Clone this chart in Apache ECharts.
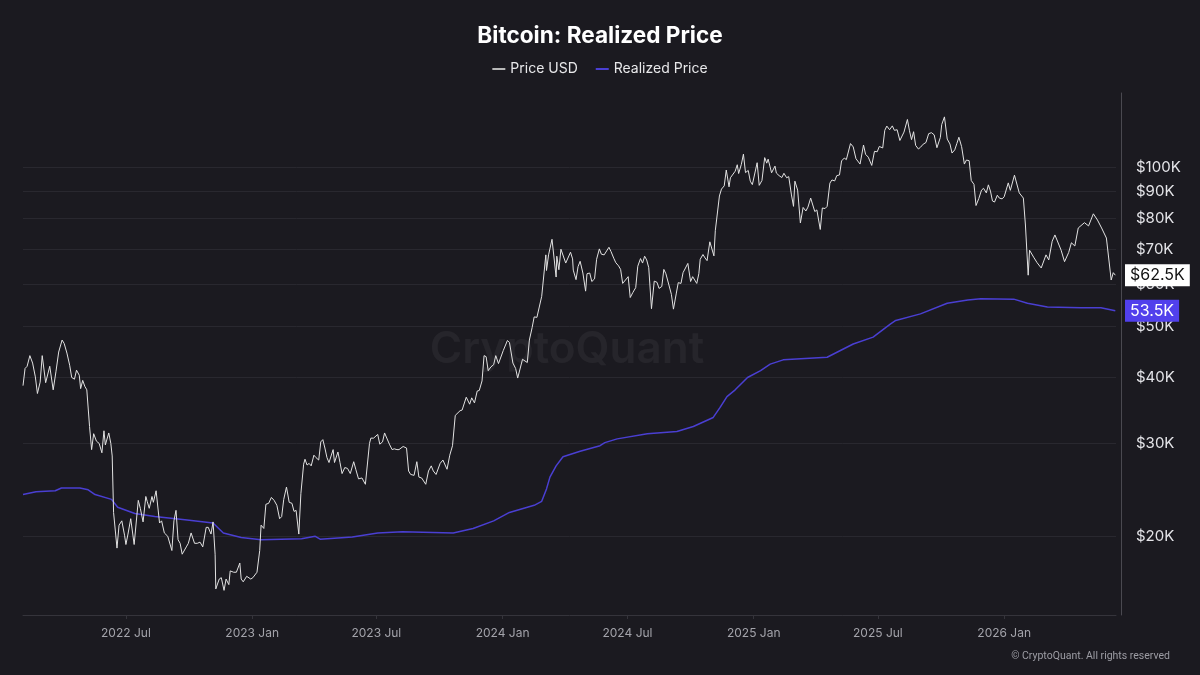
<!DOCTYPE html>
<html>
<head>
<meta charset="utf-8">
<script src="https://cdn.jsdelivr.net/npm/echarts@6/dist/echarts.min.js"></script>
<style>
html,body{margin:0;padding:0;background:#1b1a20;}
#c{width:1200px;height:675px;}
</style>
</head>
<body>
<div id="c"></div>
<script>
// ---- Data (values in thousand USD) ----
const price2022 = [
['2022-02-01',38.6],['2022-02-04',41.6],['2022-02-07',42.0],['2022-02-11',44.0],['2022-02-15',42.6],
['2022-02-19',40.1],['2022-02-22',37.3],['2022-02-26',39.2],['2022-03-01',44.0],['2022-03-06',39.1],
['2022-03-12',42.0],['2022-03-17',37.9],['2022-03-21',41.0],['2022-03-25',44.7],['2022-03-30',47.1],
['2022-04-02',46.4],['2022-04-06',44.5],['2022-04-10',42.2],['2022-04-13',40.0],['2022-04-17',39.7],
['2022-04-20',41.3],['2022-04-24',40.4],['2022-04-26',38.1],['2022-04-29',39.5],['2022-05-02',38.5],
['2022-05-05',37.9],['2022-05-09',32.3],['2022-05-12',29.2],['2022-05-15',31.3],['2022-05-19',30.3],
['2022-05-23',30.0],['2022-05-27',28.8],['2022-05-30',31.7],['2022-06-01',29.8],['2022-06-06',31.4],
['2022-06-09',30.0],['2022-06-11',28.4],['2022-06-13',22.2],['2022-06-18',19.0],['2022-06-21',21.0],
['2022-06-25',21.4],['2022-06-29',20.1],['2022-07-01',19.3],['2022-07-04',20.2],['2022-07-08',21.6],
['2022-07-13',19.3],['2022-07-19',23.4],['2022-07-22',22.6],['2022-07-26',21.3],['2022-07-30',23.8],
['2022-08-01',23.3],['2022-08-04',22.6],['2022-08-08',23.8],['2022-08-10',23.2],['2022-08-14',24.4],
['2022-08-19',21.2],['2022-08-22',21.4],['2022-08-26',20.3],['2022-08-31',20.0],['2022-09-06',18.8],
['2022-09-09',21.4],['2022-09-12',22.4],['2022-09-15',19.7],['2022-09-18',19.4],['2022-09-21',18.5],
['2022-09-27',19.1],['2022-09-30',19.4],['2022-10-04',20.3],['2022-10-09',19.4],['2022-10-13',19.4],
['2022-10-17',19.5],['2022-10-21',19.1],['2022-10-26',20.8],['2022-10-29',20.8],['2022-11-02',20.2],
['2022-11-05',21.3],['2022-11-08',18.5],['2022-11-09',15.9],['2022-11-14',16.6],['2022-11-17',16.7],
['2022-11-21',15.8],['2022-11-24',16.6],['2022-11-28',16.2],['2022-11-30',17.2],['2022-12-05',17.1],
['2022-12-09',17.1],['2022-12-14',17.8],['2022-12-16',16.6],['2022-12-19',16.4],['2022-12-24',16.8],
['2022-12-30',16.6]
];
const price2023 = [
['2023-01-02',16.7],['2023-01-08',17.1],['2023-01-12',18.8],['2023-01-14',21.0],['2023-01-18',20.7],
['2023-01-21',23.0],['2023-01-25',23.1],['2023-01-29',23.7],['2023-02-02',23.4],['2023-02-06',22.9],
['2023-02-10',21.6],['2023-02-13',21.8],['2023-02-16',23.5],['2023-02-20',24.8],['2023-02-24',23.2],
['2023-02-28',23.1],['2023-03-03',22.3],['2023-03-06',22.4],['2023-03-10',20.2],['2023-03-13',24.1],
['2023-03-17',27.4],['2023-03-19',28.0],['2023-03-22',27.3],['2023-03-25',27.5],['2023-03-28',27.2],
['2023-04-01',28.5],['2023-04-04',28.2],['2023-04-08',27.9],['2023-04-11',30.2],['2023-04-14',30.5],
['2023-04-17',29.4],['2023-04-20',28.2],['2023-04-23',27.6],['2023-04-26',28.4],['2023-04-29',29.2],
['2023-05-01',27.6],['2023-05-06',28.9],['2023-05-09',27.6],['2023-05-12',26.3],['2023-05-16',27.0],
['2023-05-20',26.9],['2023-05-24',26.3],['2023-05-29',27.7],['2023-06-01',26.8],['2023-06-05',25.7],
['2023-06-10',25.8],['2023-06-15',25.1],['2023-06-21',30.0],['2023-06-23',30.7],['2023-06-27',30.7],
['2023-07-03',31.2],['2023-07-06',29.9],['2023-07-10',30.2],['2023-07-13',31.4],['2023-07-20',29.9],
['2023-07-24',29.2],['2023-07-27',29.3],['2023-07-31',29.2],['2023-08-03',29.2],['2023-08-09',29.6],
['2023-08-14',29.4],['2023-08-17',26.6],['2023-08-20',26.2],['2023-08-25',26.1],['2023-08-29',27.7],
['2023-09-01',25.9],['2023-09-05',25.8],['2023-09-11',25.1],['2023-09-15',26.6],['2023-09-19',27.2],
['2023-09-22',26.6],['2023-09-26',26.2],['2023-10-02',27.5],['2023-10-06',27.9],['2023-10-12',26.8],
['2023-10-16',28.5],['2023-10-20',29.7],['2023-10-24',33.9],['2023-10-31',34.6],['2023-11-03',34.7],
['2023-11-09',36.7],['2023-11-14',35.6],['2023-11-17',36.6],['2023-11-21',35.8],['2023-11-25',37.7],
['2023-11-28',37.8],['2023-12-02',39.4],['2023-12-05',44.0],['2023-12-08',43.8],['2023-12-11',41.2],
['2023-12-15',41.9],['2023-12-19',42.3],['2023-12-22',44.0],['2023-12-26',42.5]
];
const price2024 = [
['2024-01-02',45.0],['2024-01-08',47.0],['2024-01-11',46.6],['2024-01-16',42.6],['2024-01-20',41.6],
['2024-01-23',39.9],['2024-01-30',43.3],['2024-02-06',42.7],['2024-02-09',47.1],['2024-02-13',49.7],
['2024-02-16',52.1],['2024-02-20',52.0],['2024-02-27',57.0],['2024-03-04',68.3],['2024-03-05',63.8],
['2024-03-08',68.3],['2024-03-13',73.1],['2024-03-19',62.0],['2024-03-20',67.9],['2024-03-23',64.0],
['2024-03-26',70.0],['2024-04-02',65.9],['2024-04-09',69.1],['2024-04-12',67.1],['2024-04-13',63.9],
['2024-04-17',61.3],['2024-04-20',64.9],['2024-04-23',66.4],['2024-04-27',63.1],['2024-05-01',58.3],
['2024-05-03',62.9],['2024-05-07',63.1],['2024-05-10',60.8],['2024-05-14',61.5],['2024-05-17',67.0],
['2024-05-21',70.1],['2024-05-24',68.5],['2024-05-28',68.3],['2024-06-04',70.6],['2024-06-07',69.3],
['2024-06-11',67.3],['2024-06-14',66.0],['2024-06-18',65.1],['2024-06-21',64.1],['2024-06-24',60.3],
['2024-07-02',62.1],['2024-07-05',56.7],['2024-07-09',58.0],['2024-07-13',59.2],['2024-07-16',65.0],
['2024-07-20',67.2],['2024-07-23',65.9],['2024-07-26',67.9],['2024-07-29',66.8],['2024-08-01',64.6],
['2024-08-05',54.0],['2024-08-09',60.9],['2024-08-13',60.6],['2024-08-16',59.0],['2024-08-20',59.5],
['2024-08-23',64.1],['2024-08-26',62.9],['2024-09-03',57.5],['2024-09-06',53.9],['2024-09-10',57.6],
['2024-09-13',60.5],['2024-09-17',60.3],['2024-09-20',63.2],['2024-09-27',65.8],['2024-10-01',60.8],
['2024-10-04',62.1],['2024-10-10',60.3],['2024-10-13',62.9],['2024-10-15',67.0],['2024-10-19',68.4],
['2024-10-22',67.4],['2024-10-25',66.6],['2024-10-29',72.3],['2024-11-04',68.0],['2024-11-06',75.9],
['2024-11-12',88.3],['2024-11-15',91.0],['2024-11-19',92.3],['2024-11-22',98.9],['2024-11-26',91.9],
['2024-11-28',95.6],['2024-12-05',98.4],['2024-12-08',101.2],['2024-12-10',97.4],['2024-12-14',101.4],
['2024-12-17',106.0],['2024-12-20',97.8],['2024-12-24',98.7],['2024-12-27',94.2],['2024-12-30',92.8]
];
const price2025 = [
['2025-01-06',102.1],['2025-01-09',92.5],['2025-01-13',94.5],['2025-01-17',104.4],['2025-01-20',101.9],
['2025-01-22',103.7],['2025-01-27',97.7],['2025-02-01',100.6],['2025-02-03',97.6],['2025-02-07',96.5],
['2025-02-11',95.7],['2025-02-14',97.5],['2025-02-18',95.6],['2025-02-21',96.1],['2025-02-25',88.7],
['2025-02-28',84.4],['2025-03-02',94.2],['2025-03-06',90.6],['2025-03-10',78.5],['2025-03-14',84.0],
['2025-03-18',82.7],['2025-03-21',84.1],['2025-03-25',87.5],['2025-03-31',82.5],['2025-04-03',83.1],
['2025-04-08',76.3],['2025-04-11',83.8],['2025-04-15',83.6],['2025-04-18',84.4],['2025-04-22',93.4],
['2025-04-25',94.7],['2025-04-29',94.3],['2025-05-02',96.5],['2025-05-06',96.8],['2025-05-09',102.9],
['2025-05-13',104.2],['2025-05-16',103.5],['2025-05-22',111.0],['2025-05-26',109.4],['2025-05-30',103.9],
['2025-06-05',101.5],['2025-06-10',110.3],['2025-06-13',105.9],['2025-06-17',104.6],['2025-06-22',100.9],
['2025-06-26',107.3],['2025-06-30',107.1],['2025-07-03',109.6],['2025-07-08',108.9],['2025-07-11',117.6],
['2025-07-14',119.8],['2025-07-18',117.9],['2025-07-22',119.9],['2025-07-25',117.6],['2025-07-29',117.9],
['2025-08-02',112.5],['2025-08-08',116.7],['2025-08-10',119.3],['2025-08-13',123.3],['2025-08-16',117.4],
['2025-08-19',112.9],['2025-08-22',116.9],['2025-08-25',110.1],['2025-08-29',108.4],['2025-09-01',109.2],
['2025-09-05',110.7],['2025-09-09',111.5],['2025-09-13',115.9],['2025-09-17',116.4],['2025-09-21',115.3],
['2025-09-25',109.0],['2025-09-30',114.0],['2025-10-02',120.6],['2025-10-06',124.7],['2025-10-10',113.2],
['2025-10-14',110.8],['2025-10-17',106.5],['2025-10-21',108.0],['2025-10-24',111.0],['2025-10-27',114.1],
['2025-10-31',109.5],['2025-11-04',101.5],['2025-11-07',103.3],['2025-11-11',103.0],['2025-11-14',94.5],
['2025-11-18',92.9],['2025-11-21',84.7],['2025-11-25',87.3],['2025-11-29',90.6],['2025-12-02',91.3],
['2025-12-06',89.5],['2025-12-09',92.7],['2025-12-12',90.2],['2025-12-15',86.4],['2025-12-18',86.0],
['2025-12-22',88.6],['2025-12-25',87.5],['2025-12-29',87.2]
];
const price2026 = [
['2026-01-01',88.0],['2026-01-07',93.5],['2026-01-10',90.5],['2026-01-16',96.7],['2026-01-23',89.5],
['2026-01-29',87.5],['2026-02-01',77.8],['2026-02-05',62.5],['2026-02-07',69.7],['2026-02-13',67.6],
['2026-02-18',66.0],['2026-02-24',64.5],['2026-03-03',68.3],['2026-03-07',66.8],['2026-03-12',72.5],
['2026-03-16',74.5],['2026-03-25',69.7],['2026-03-30',66.3],['2026-04-05',69.0],['2026-04-09',72.0],
['2026-04-14',71.0],['2026-04-19',76.8],['2026-04-28',78.6],['2026-05-04',77.5],['2026-05-11',81.7],
['2026-05-17',79.5],['2026-05-23',76.8],['2026-05-30',73.5],['2026-06-06',61.2],['2026-06-09',63.2],
['2026-06-12',62.5]
];
const realized = [
['2022-02-01',24.0],['2022-02-20',24.3],['2022-03-20',24.4],['2022-03-29',24.7],['2022-04-25',24.7],
['2022-05-07',24.5],['2022-05-17',24.0],['2022-06-10',23.5],['2022-06-19',22.7],['2022-07-14',22.1],
['2022-08-12',21.8],['2022-09-25',21.5],['2022-11-05',21.2],['2022-11-20',20.3],['2022-12-16',19.9],
['2023-01-14',19.7],['2023-03-14',19.8],['2023-04-03',20.0],['2023-04-10',19.75],['2023-05-27',19.95],
['2023-07-03',20.3],['2023-08-08',20.4],['2023-10-21',20.3],['2023-11-19',20.7],['2023-12-19',21.4],
['2024-01-11',22.2],['2024-02-16',22.9],['2024-02-27',23.3],['2024-03-05',24.6],['2024-03-10',25.9],
['2024-03-19',27.2],['2024-03-29',28.3],['2024-04-23',29.0],['2024-05-22',29.7],['2024-05-29',30.1],
['2024-06-16',30.6],['2024-07-30',31.3],['2024-09-11',31.6],['2024-10-05',32.3],['2024-11-03',33.6],
['2024-11-13',35.1],['2024-11-23',36.8],['2024-12-05',37.9],['2024-12-23',40.0],['2025-01-11',41.2],
['2025-01-25',42.4],['2025-02-13',43.2],['2025-04-18',43.7],['2025-05-26',46.3],['2025-06-24',47.7],
['2025-07-19',50.5],['2025-07-27',51.3],['2025-09-01',52.8],['2025-10-10',55.3],['2025-11-09',56.1],
['2025-11-28',56.4],['2026-01-15',56.3],['2026-02-04',55.3],['2026-03-05',54.4],['2026-04-23',54.2],
['2026-05-22',54.2],['2026-06-12',53.5]
];
const yTicks = [20,30,40,50,60,70,80,90,100];
const monthNames = ['Jan','Feb','Mar','Apr','May','Jun','Jul','Aug','Sep','Oct','Nov','Dec'];
const xRange = ['2022-02-01','2026-06-13'];
const yRange = [14.19, 138.4];

// ---- Build ----
const DAY = 86400000;
const toTs = s => { const p = s.split('-').map(Number); return new Date(p[0], p[1]-1, p[2]).getTime(); };
const conv = arr => arr.map(d => [toTs(d[0]), d[1]]);
const priceData = conv(price2022.concat(price2023, price2024, price2025, price2026));
const rpData = conv(realized);
const lastPrice = priceData[priceData.length-1][1];
const lastRP = rpData[rpData.length-1][1];
const FONT = 'Inter, "Noto Sans", sans-serif';

const chart = echarts.init(document.getElementById('c'));
chart.setOption({
  backgroundColor: '#1b1a20',
  animation: false,
  textStyle: { fontFamily: FONT },
  title: {
    text: 'Bitcoin: Realized Price',
    left: 'center', top: 20,
    textStyle: { color: '#ffffff', fontSize: 22.6, fontWeight: 'bold', fontFamily: FONT }
  },
  legend: {
    top: 57, left: 'center',
    icon: 'rect', itemWidth: 13, itemHeight: 2, itemGap: 18,
    selectedMode: false,
    data: ['Price USD', 'Realized Price'],
    textStyle: { color: '#e8e8ea', fontSize: 14, fontFamily: FONT }
  },
  grid: { left: 23, right: 84, top: 93, bottom: 60 },
  graphic: [
    { type: 'text', x: 567, y: 350, z: 0, silent: true,
      style: { text: 'CryptoQuant', fill: 'rgba(255,255,255,0.05)', font: '600 44px Inter, sans-serif', align: 'center', verticalAlign: 'middle' } },
    { type: 'text', x: 1170, y: 656, z: 0, silent: true,
      style: { text: '\u00A9 CryptoQuant. All rights reserved', fill: '#9d9da4', font: '10.5px Roboto, sans-serif', align: 'right', verticalAlign: 'middle' } }
  ],
  xAxis: {
    type: 'time',
    min: toTs(xRange[0]), max: toTs(xRange[1]),
    minInterval: 181 * DAY, maxInterval: 184 * DAY,
    axisLine: { show: true, lineStyle: { color: '#35343b', width: 1 } },
    axisTick: { show: true, length: 4, lineStyle: { color: '#35343b' } },
    axisLabel: {
      color: '#a3a3aa', fontSize: 12, margin: 12, fontFamily: FONT, fontWeight: 'normal',
      formatter: v => { const d = new Date(v); return d.getFullYear() + ' ' + monthNames[d.getMonth()]; }
    },
    splitLine: { show: false }
  },
  yAxis: {
    type: 'log', logBase: 10, position: 'right', offset: 5,
    min: yRange[0], max: yRange[1],
    axisLine: { show: true, lineStyle: { color: '#4a4950', width: 1 } },
    axisTick: { show: false },
    axisLabel: { show: false },
    splitLine: { show: false }
  },
  series: [
    {
      name: 'gridHelper', type: 'line', data: rpData, showSymbol: false, silent: true,
      lineStyle: { opacity: 0 }, itemStyle: { opacity: 0 }, z: 1,
      markLine: {
        silent: true, z: 1, symbol: ['none', 'none'],
        lineStyle: { color: '#29282f', width: 1, type: 'solid' },
        label: { show: true, position: 'end', distance: 20, color: '#e4e4e8', fontSize: 15, fontFamily: FONT,
                 formatter: p => '$' + p.value + 'K' },
        emphasis: { disabled: true },
        data: yTicks.map(v => ({ yAxis: v }))
      }
    },
    {
      name: 'Realized Price', type: 'line', data: rpData, showSymbol: false, z: 3,
      lineStyle: { width: 1.5, color: '#4a3fd2' }, itemStyle: { color: '#4a3fd2' },
      markLine: {
        silent: true, z: 10, symbol: ['none', 'none'],
        lineStyle: { color: 'rgba(0,0,0,0)', width: 1, type: 'solid' },
        label: { show: true, position: 'end', distance: 9, color: '#ffffff', backgroundColor: '#5140ec',
                 padding: [3, 5, 3, 5], fontSize: 16, fontFamily: FONT,
                 formatter: () => lastRP.toFixed(1) + 'K' },
        emphasis: { disabled: true },
        data: [{ yAxis: lastRP }]
      }
    },
    {
      name: 'Price USD', type: 'line', data: priceData, showSymbol: false, z: 4,
      lineStyle: { width: 1, color: '#e2e2e2' }, itemStyle: { color: '#b8b8b8' },
      markLine: {
        silent: true, z: 11, symbol: ['none', 'none'],
        lineStyle: { color: 'rgba(0,0,0,0)', width: 1, type: 'solid' },
        label: { show: true, position: 'end', distance: 9, color: '#111111', backgroundColor: '#ffffff',
                 padding: [3, 5, 3, 5], fontSize: 16, fontFamily: FONT,
                 formatter: () => '$' + lastPrice.toFixed(1) + 'K' },
        emphasis: { disabled: true },
        data: [{ yAxis: lastPrice }]
      }
    }
  ]
});
</script>
</body>
</html>
